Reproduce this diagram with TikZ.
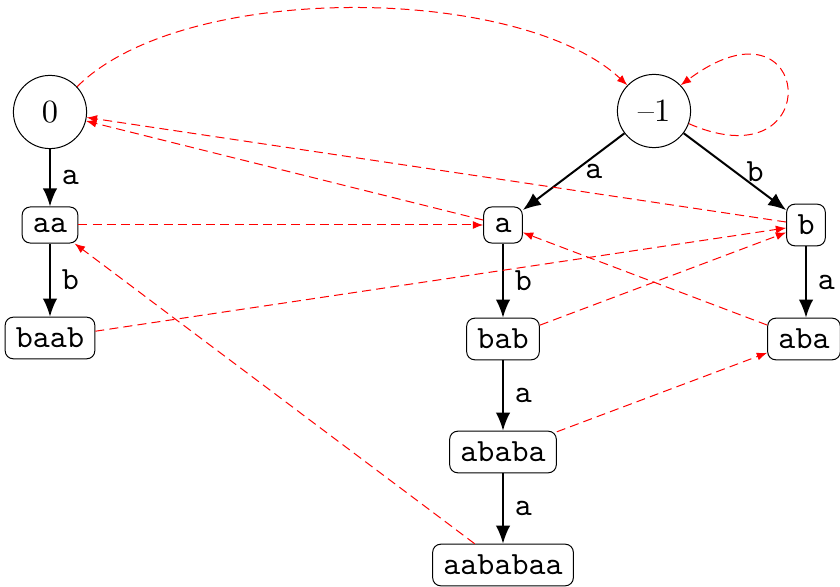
\documentclass[tikz,border=0pt]{standalone}
\usepackage{fontspec}
\setmainfont{lmroman10-regular}[Extension=.otf]
\setmonofont{lmmono10-regular}[Extension=.otf]
\usetikzlibrary{arrows.meta}
\begin{document}
% one unit of length is half a point
\begin{tikzpicture}[x=0.5pt,y=-0.5pt,
  font=\fontsize{16.2}{19}\selectfont,
  state/.style={circle,draw,line width=0.5pt,minimum size=36.6pt,inner sep=0pt},
  pal/.style={draw,rounded corners=4pt,line width=0.5pt,inner sep=5.4pt,font=\fontsize{16.2}{19}\selectfont\ttfamily},
  tedge/.style={-{Latex[length=9pt,width=7.2pt]},line width=1pt},
  lbl/.style={font=\fontsize{16.2}{19}\selectfont\ttfamily,inner sep=5.4pt,anchor=west},
  link/.style={red,line width=0.5pt,dash pattern=on 4.5pt off 2.6pt,-{Latex[length=5.2pt,width=4pt]}}]
\useasboundingbox (0,0) rectangle (840,587);

% roots
\node[state] (n0) at (50,112) {0};
\node[state] (m1) at (654,111) {--1};

% palindromes
\node[pal] (aa) at (50,225) {aa};
\node[pal] (baab) at (50,338) {baab};
\node[pal] (a) at (503,225) {a};
\node[pal] (b) at (806,225) {b};
\node[pal] (bab) at (503,339) {bab};
\node[pal] (aba) at (804,339) {aba};
\node[pal] (ababa) at (503,452) {ababa};
\node[pal] (aababaa) at (503,565) {aababaa};

% tree edges
\draw[tedge] (n0) -- node[lbl]{a} (aa);
\draw[tedge] (aa) -- node[lbl]{b} (baab);
\draw[tedge] (m1) -- node[lbl]{a} (a);
\draw[tedge] (m1) -- node[lbl]{b} (b);
\draw[tedge] (a) -- node[lbl]{b} (bab);
\draw[tedge] (b) -- node[lbl]{a} (b |- aba.north);
\draw[tedge] (bab) -- node[lbl]{a} (ababa);
\draw[tedge] (ababa) -- node[lbl]{a} (aababaa);

% suffix links
\draw[link] (n0.43) .. controls +(106,-106) and +(-108,-101) .. (m1.136);
\draw[link] (m1.-20) .. controls +(140,61) and +(133,-99) .. (m1.44);
\draw[link] (aa) -- (a);
\draw[link] (a) -- (n0);
\draw[link] (b) -- (n0);
\draw[link] (baab) -- (b);
\draw[link] (bab) -- (b);
\draw[link] (aba) -- (a);
\draw[link] (ababa) -- (aba);
\draw[link] (aababaa) -- (aa);
\end{tikzpicture}
\end{document}
